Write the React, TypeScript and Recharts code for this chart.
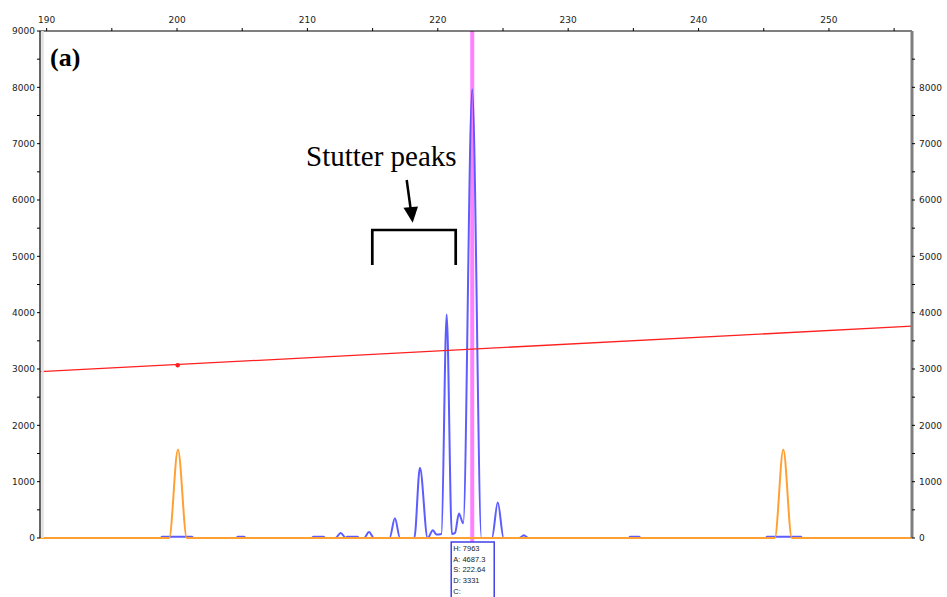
import { LineChart, Line, XAxis, YAxis, ReferenceLine, ReferenceDot } from 'recharts';

// size (bp) axis, shown on top
const sizeTicks = [190, 195, 200, 205, 210, 215, 220, 225, 230, 235, 240, 245, 250, 255];
const sizeDomain = [189.49, 256.37];

// RFU axis
const rfuTicks = [0, 500, 1000, 1500, 2000, 2500, 3000, 3500, 4000, 4500, 5000, 5500, 6000, 6500, 7000, 7500, 8000, 8500, 9000];
const rightRfuTicks = [0, 500, 1000, 1500, 2000, 2500, 3000, 3500, 4000, 4500, 5000, 5500, 6000, 6500, 7000, 7500, 8000, 8500];

// blue dye trace (sample)
const blueSize = [
  189.49,
  198.75, 198.85, 201.15, 201.25,
  204.55, 204.65, 205.15, 205.25,
  210.35, 210.45, 211.25, 211.35,
  212.15, 212.55, 212.95, 213.05, 213.85, 213.95,
  214.35, 214.72, 215.1,
  216.3, 216.71, 217.1,
  218.2, 218.63, 219.22,
  219.63, 219.9, 220.28, 220.68, 221.08,
  221.32, 221.62, 221.95, 222.64, 223.35,
  224.15, 224.6, 225.05,
  226.25, 226.6, 226.95,
  234.65, 234.75, 235.45, 235.55,
  245.15, 245.25, 247.85, 247.95,
  256.37,
];
const blueRfu = [
  0,
  0, 20, 20, 0,
  0, 20, 20, 0,
  0, 20, 20, 0,
  0, 90, 0, 20, 20, 0,
  0, 105, 0,
  0, 350, 0,
  0, 1245, 0,
  137, 60, 70, 3966, 70,
  90, 433, 260, 7963, 0,
  0, 628, 0,
  0, 48, 0,
  0, 20, 20, 0,
  0, 20, 20, 0,
  0,
];

// orange size standard trace
const orangeSize = [189.49, 199.4, 200.07, 200.75, 245.85, 246.5, 247.15, 256.37];
const orangeRfu = [0, 0, 1570, 0, 0, 1570, 0, 0];

// red threshold line
const thresholdSize = [189.49, 256.37];
const thresholdRfu = [2952, 3760];
const thresholdMarker = { size: 200.05, rfu: 3066 };

// called peak
const calledSize = 222.64;
const calledInfo = ['H: 7963', 'A: 4687.3', 'S: 222.64', 'D: 3331', 'C:'];

const toRows = (xs: number[], ys: number[]) => xs.map((size, i) => ({ size, rfu: ys[i] }));

const tickFont = { fontSize: 9, fill: '#222', fontFamily: 'DejaVu Sans' };

const PeakInfo = (props: any) => {
  const vb = props.viewBox || {};
  const x = vb.x ?? 0;
  const bottom = (vb.y ?? 0) + (vb.height ?? 0);
  return (
    <g>
      <line x1={x} x2={x} y1={bottom} y2={bottom + 5} stroke="#ff80ff" strokeWidth={4} />
      <rect x={x - 21} y={bottom + 4} width={43} height={70} fill="#fff" stroke="#4040e8" strokeWidth={1.5} />
      {calledInfo.map((t, i) => (
        <text key={t} x={x - 19} y={bottom + 13 + i * 10.7} fontSize={7.5} fontFamily="Liberation Sans" fill="#222">
          {t}
        </text>
      ))}
    </g>
  );
};

export default function App() {
  return (
    <div style={{ position: 'absolute', left: 0, top: 0, width: 947, height: 597, overflow: 'hidden', background: '#fff' }}>
      <LineChart width={947} height={597} margin={{ top: 0, right: 0, bottom: 59, left: 0 }}>
        <XAxis
          type="number"
          dataKey="size"
          orientation="top"
          domain={sizeDomain}
          allowDataOverflow
          ticks={sizeTicks}
          interval={0}
          height={31}
          tickSize={3}
          tickMargin={5}
          tickFormatter={(v: number) => (v % 10 === 0 ? String(v) : '')}
          tick={tickFont}
          axisLine={{ stroke: '#000', strokeWidth: 1.2 }}
          tickLine={{ stroke: '#000' }}
        />
        <YAxis
          orientation="left"
          width={40}
          domain={[0, 9000]}
          ticks={rfuTicks}
          interval={0}
          tickSize={3}
          tickMargin={2}
          tickFormatter={(v: number) => (v % 1000 === 0 ? String(v) : '')}
          tick={tickFont}
          axisLine={{ stroke: '#333', strokeWidth: 1.5 }}
          tickLine={{ stroke: '#000' }}
        />
        <YAxis
          yAxisId="right"
          orientation="right"
          width={35}
          domain={[0, 9000]}
          ticks={rightRfuTicks}
          interval={0}
          tickSize={3}
          tickMargin={4}
          tickFormatter={(v: number) => (v % 1000 === 0 ? String(v) : '')}
          tick={tickFont}
          axisLine={{ stroke: '#7f7f7f', strokeWidth: 3 }}
          tickLine={{ stroke: '#000' }}
        />
        <ReferenceLine
          x={calledSize}
          stroke="#ff80ff"
          strokeWidth={4}
          label={(p: any) => <PeakInfo {...p} />}
        />
        <Line
          data={toRows(blueSize, blueRfu)}
          dataKey="rfu"
          type="monotone"
          stroke="#4646ff"
          strokeOpacity={0.88}
          strokeWidth={2}
          dot={false}
          isAnimationActive={false}
        />
        <Line
          data={toRows(orangeSize, orangeRfu)}
          dataKey="rfu"
          type="monotone"
          stroke="#ffa033"
          strokeWidth={2}
          dot={false}
          isAnimationActive={false}
        />
        <Line
          yAxisId="right"
          data={toRows(thresholdSize, thresholdRfu)}
          dataKey="rfu"
          type="linear"
          stroke="#ff2020"
          strokeWidth={1.3}
          dot={false}
          isAnimationActive={false}
        />
        <ReferenceDot x={thresholdMarker.size} y={thresholdMarker.rfu} r={2.2} fill="#ff2020" stroke="none" />
      </LineChart>
      <svg width={947} height={597} style={{ position: 'absolute', left: 0, top: 0, pointerEvents: 'none' }}>
        <line x1={42.5} x2={42.5} y1={31} y2={538} stroke="#e0e0e0" strokeWidth={2.5} />
        <text x={50} y={66} fontFamily="Liberation Serif" fontWeight="bold" fontSize={26} fill="#000">(a)</text>
        <text x={306} y={166} fontFamily="Liberation Serif" fontSize={29} fill="#000">Stutter peaks</text>
        <line x1={406.7} y1={180} x2={410.8} y2={210} stroke="#000" strokeWidth={2.5} />
        <polygon points="412.7,222.7 403.5,207.8 418,206.6" fill="#000" />
        <polyline points="372.3,265 372.3,230 455.7,230 455.7,265" fill="none" stroke="#000" strokeWidth={2.7} />
      </svg>
    </div>
  );
}
